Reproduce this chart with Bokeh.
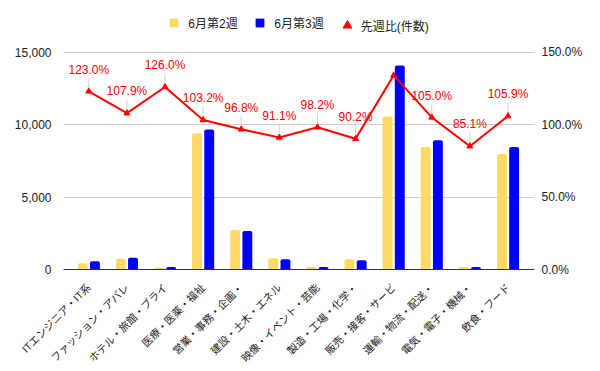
import math
from bokeh.plotting import figure
from bokeh.models import (ColumnDataSource, Range1d, LinearAxis, FixedTicker,
                          NumeralTickFormatter, PrintfTickFormatter, Legend, LegendItem)
from bokeh.transform import dodge
from bokeh.core.properties import value
from bokeh.embed import file_html
from bokeh.resources import INLINE

categories = ["ITエンジニア・IT系", "ファッション・アパレ", "ホテル・旅館・ブライ", "医療・医薬・福祉",
              "営業・事務・企画・", "建設・土木・エネル", "映像・イベント・芸能", "製造・工場・化学・",
              "販売・接客・サービ", "運輸・物流・配送・", "電気・電子・機械・", "飲食・フード"]
week2 = [440, 740, 115, 9400, 2720, 780, 180, 710, 10570, 8460, 180, 7970]
week3 = [575, 810, 180, 9670, 2650, 710, 180, 645, 14080, 8920, 170, 8460]
ratio = [123.0, 107.9, 126.0, 103.2, 96.8, 91.1, 98.2, 90.2, 134.0, 105.0, 85.1, 105.9]
show_label = [True, True, True, True, True, True, True, True, False, True, True, True]
series_names = ["6月第2週", "6月第3週", "先週比(件数)"]
left_ticks = [0, 5000, 10000, 15000]
right_ticks = [0, 50, 100, 150]

FONT = "'Liberation Sans', 'Noto Sans CJK JP'"
TXT = "#222222"

# frame extends above the top gridline so the legend can sit inside it
FRAME_H = 262
GRID_H = 217.3
y_end = left_ticks[-1] * FRAME_H / GRID_H
pct_end = right_ticks[-1] * FRAME_H / GRID_H

idx = list(range(len(categories)))
src = ColumnDataSource(dict(x=idx, w2=week2, w3=week3, r=ratio))
lab_idx = [i for i in idx if show_label[i]]
lab_src = ColumnDataSource(dict(
    x=lab_idx,
    r=[ratio[i] for i in lab_idx],
    r_top=[ratio[i] + 9.5 for i in lab_idx],
    t=["%.1f%%" % ratio[i] for i in lab_idx],
))

p = figure(width=600, height=371, output_backend="svg", toolbar_location=None,
           x_range=Range1d(-0.664, 11.695), y_range=Range1d(0, y_end),
           frame_width=471, frame_height=FRAME_H,
           min_border_left=63, min_border_right=66, min_border_top=7, min_border_bottom=102)
p.extra_y_ranges = {"pct": Range1d(0, pct_end)}
p.outline_line_color = None
p.background_fill_color = "white"
p.border_fill_color = "white"

# axes
p.yaxis.ticker = FixedTicker(ticks=left_ticks)
p.yaxis.formatter = NumeralTickFormatter(format="0,0")
p.yaxis.axis_line_color = None
p.yaxis.major_tick_line_color = None
p.yaxis.minor_tick_line_color = None
p.yaxis.major_label_text_font = FONT
p.yaxis.major_label_text_font_size = "12px"
p.yaxis.major_label_text_color = TXT
p.yaxis.major_label_standoff = 6

ra = LinearAxis(y_range_name="pct", ticker=FixedTicker(ticks=right_ticks),
                formatter=PrintfTickFormatter(format="%.1f%%"))
ra.axis_line_color = None
ra.major_tick_line_color = None
ra.minor_tick_line_color = None
ra.major_label_text_font = FONT
ra.major_label_text_font_size = "12px"
ra.major_label_text_color = TXT
ra.major_label_text_align = "left"
ra.major_label_standoff = 1
p.add_layout(ra, "right")

p.xaxis.ticker = FixedTicker(ticks=idx)
p.xaxis.major_label_overrides = {i: c for i, c in enumerate(categories)}
p.xaxis.major_label_orientation = math.pi / 4
p.xaxis.major_label_text_font = FONT
p.xaxis.major_label_text_font_size = "10.5px"
p.xaxis.major_label_text_color = TXT
p.xaxis.major_tick_line_color = None
p.xaxis.minor_tick_line_color = None
p.xaxis.axis_line_color = "#333333"
p.xaxis.major_label_standoff = 10

p.xgrid.grid_line_color = None
p.ygrid.ticker = FixedTicker(ticks=left_ticks)
p.ygrid.grid_line_color = "#cccccc"

# bars
b2 = p.vbar(x=dodge("x", -0.16, range=p.x_range), top="w2", width=0.26, source=src,
            fill_color="#FFD966", line_color=None, border_radius=[2, 2, 0, 0])
b3 = p.vbar(x=dodge("x", 0.16, range=p.x_range), top="w3", width=0.26, source=src,
            fill_color="#0000FF", line_color=None, border_radius=[2, 2, 0, 0])

# annotation stems
p.segment(x0="x", y0="r", x1="x", y1="r_top", source=lab_src, y_range_name="pct",
          line_color="#d0d0d0", line_width=1)

# ratio line
p.line(x="x", y="r", source=src, y_range_name="pct", line_color="#FF0000", line_width=2)
sc = p.scatter(x="x", y="r", source=src, y_range_name="pct", marker="triangle",
               size=6, fill_color="#FF0000", line_color="#FF0000")

p.text(x="x", y="r_top", text="t", source=lab_src, y_range_name="pct",
       text_font=value("Liberation Sans"), text_font_size="12px", text_color="#FF0000",
       text_align="center", text_baseline="bottom", y_offset=-1)

def mk_legend(name, rend, loc, gw, gh, standoff):
    lg = Legend(items=[LegendItem(label=name, renderers=[rend])], location=loc,
                orientation="horizontal", glyph_width=gw, glyph_height=gh,
                label_height=gh, label_standoff=standoff, padding=0, margin=0,
                border_line_color=None, background_fill_alpha=0,
                label_text_font=FONT, label_text_font_size="12px",
                label_text_color=TXT)
    p.add_layout(lg, "center")

mk_legend(series_names[0], b2, (105.3, 238), 11, 11, 9)
mk_legend(series_names[1], b3, (191.3, 238), 11, 11, 9)
mk_legend(series_names[2], sc, (272.7, 233), 22, 22, 3)

open("out.html", "w").write(file_html(p, INLINE))
